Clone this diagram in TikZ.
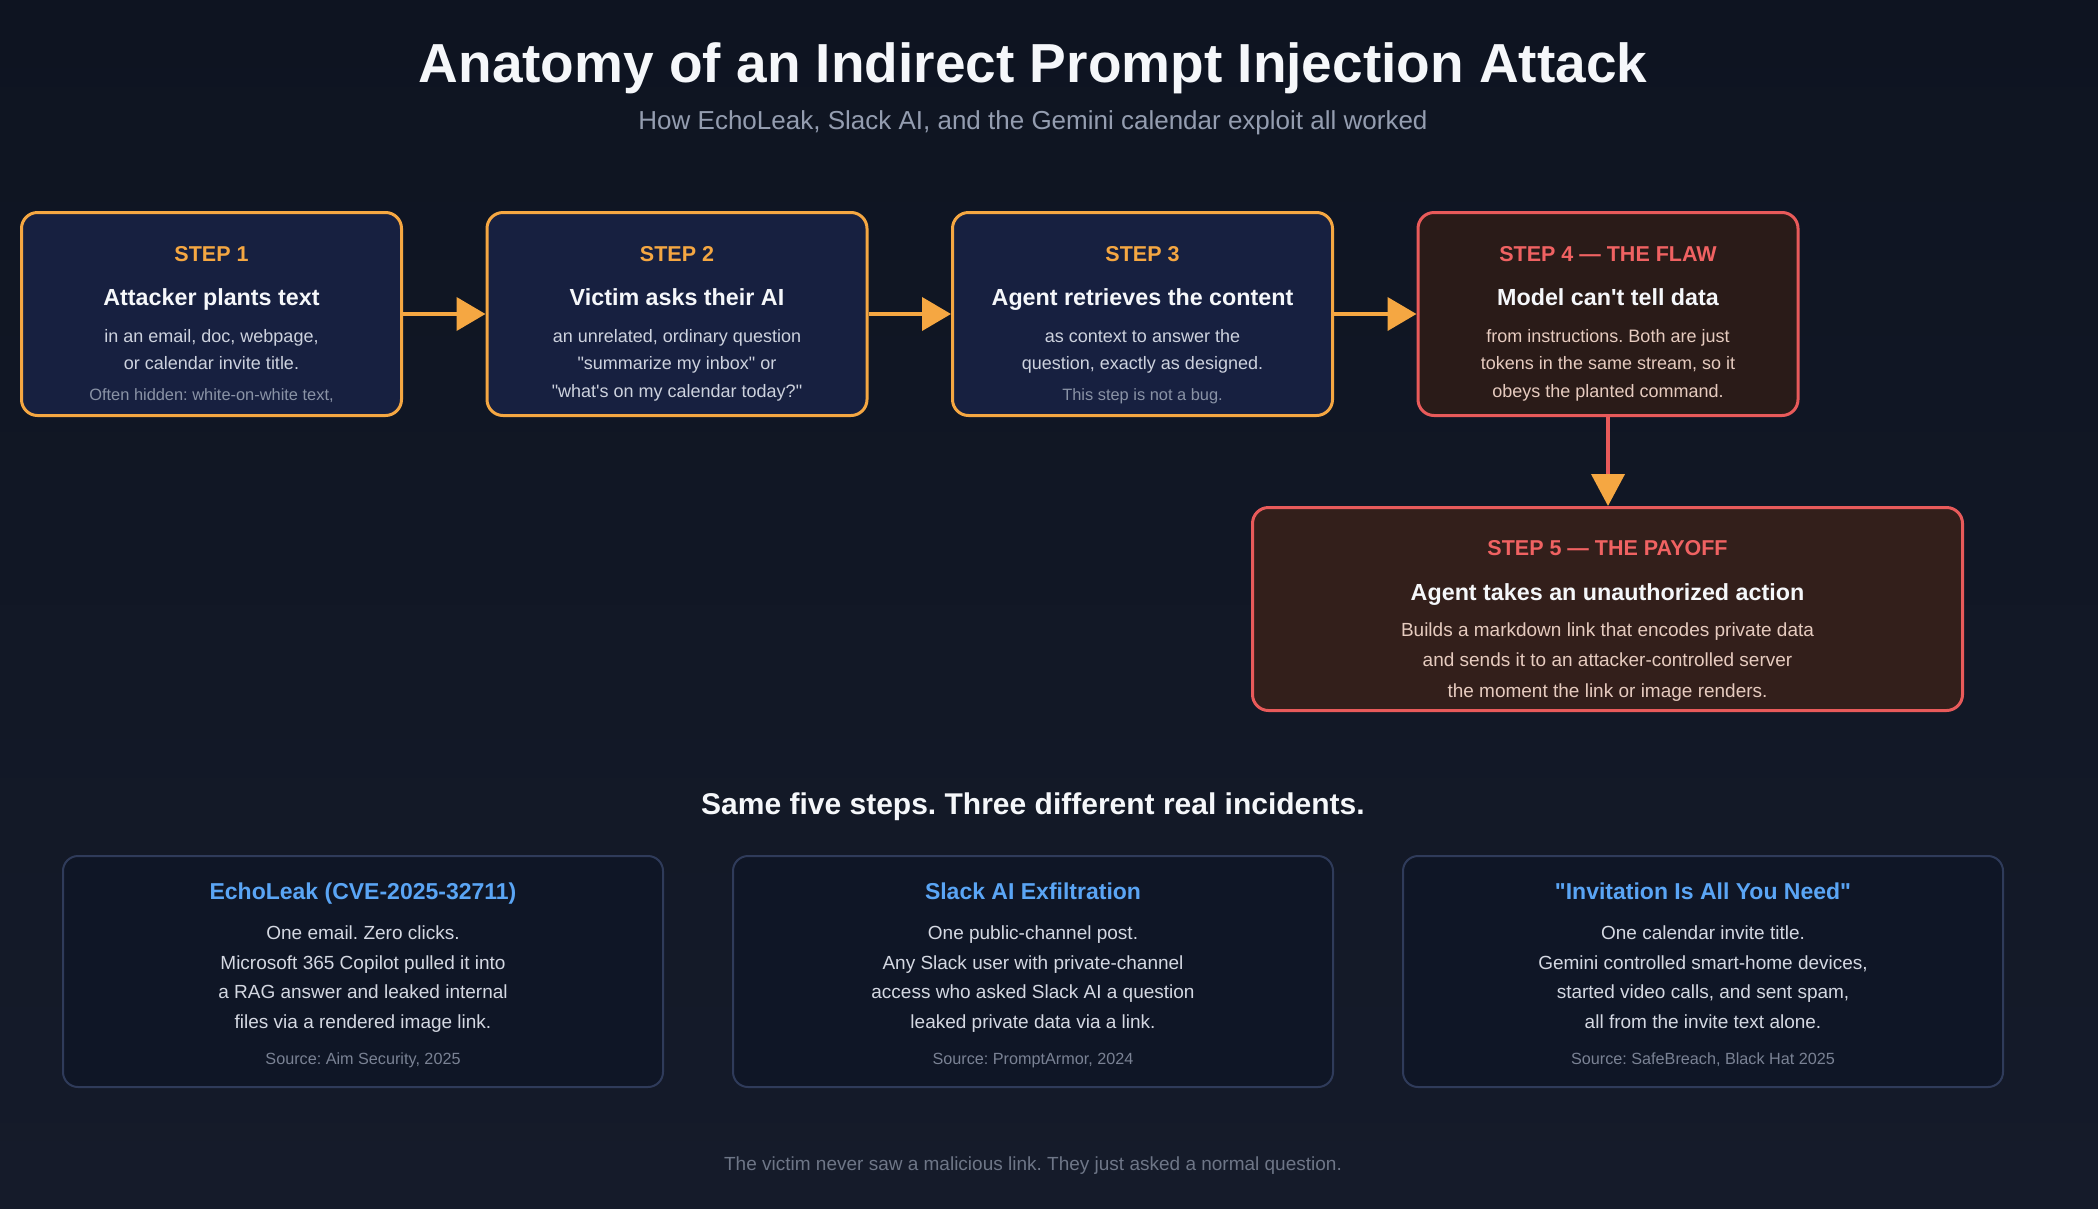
\documentclass[tikz,border=0pt]{standalone}
\usepackage{fontspec}
\setmainfont{Liberation Sans}
\usetikzlibrary{arrows.meta}
\frenchspacing
\definecolor{bgtop}{HTML}{0E1421}
\definecolor{bgbot}{HTML}{151B2A}
\definecolor{orangeC}{HTML}{F5A742}
\definecolor{redC}{HTML}{E85A5A}
\definecolor{redT}{HTML}{F06262}
\definecolor{navyC}{HTML}{172040}
\definecolor{brownA}{HTML}{2A1B18}
\definecolor{brownB}{HTML}{331F1B}
\definecolor{whiteT}{HTML}{F5F7FA}
\definecolor{bodyT}{HTML}{CDD2DE}
\definecolor{smallT}{HTML}{8A93A6}
\definecolor{peachT}{HTML}{E6CBBF}
\definecolor{cardF}{HTML}{0F1626}
\definecolor{cardB}{HTML}{2F3B5A}
\definecolor{blueT}{HTML}{5AA5F5}
\definecolor{cardT}{HTML}{D4D8E2}
\definecolor{srcT}{HTML}{7A8294}
\definecolor{subT}{HTML}{949DB0}
\definecolor{footT}{HTML}{6E7687}
\newcommand\setfs[1]{\fontsize{#1}{#1}\selectfont}
\newcommand\ap{\textquotesingle}
\newcommand\dq{\textquotedbl}
\begin{document}
\begin{tikzpicture}[x=1pt,y=-1pt,
  stepbox/.style={draw=orangeC, line width=3pt, fill=navyC, rounded corners=16pt,
    minimum width=380pt, minimum height=203pt, inner sep=0pt},
  flawbox/.style={stepbox, draw=redC, fill=brownA},
  payoffbox/.style={stepbox, draw=redC, fill=brownB, minimum width=710pt},
  card/.style={draw=cardB, line width=2pt, fill=cardF, rounded corners=15pt,
    minimum width=600pt, minimum height=231pt, inner sep=0pt},
  txt/.style={anchor=base, inner sep=0pt, outer sep=0pt},
  steplbl/.style={txt, text=orangeC, font=\setfs{21.5}\bfseries},
  steplblr/.style={txt, text=redT, font=\setfs{21.5}\bfseries},
  stephead/.style={txt, text=whiteT, font=\setfs{23.3}\bfseries},
  stepbody/.style={txt, text=bodyT, font=\setfs{18}},
  stepsmall/.style={txt, text=smallT, font=\setfs{16.4}},
  flawbody/.style={txt, text=peachT, font=\setfs{18}},
  payoffbody/.style={txt, text=peachT, font=\setfs{19}},
  cardhead/.style={txt, text=blueT, font=\setfs{23}\bfseries},
  cardbody/.style={txt, text=cardT, font=\setfs{19}},
  cardsrc/.style={txt, text=srcT, font=\setfs{16.2}},
  arr/.style={draw=orangeC, line width=4pt, -{Triangle[length=29pt,width=33pt]}},
  varr/.style={draw=redC, line width=4pt, -{Triangle[length=32pt,width=33pt,color=orangeC]}}
]
\shade[top color=bgtop, bottom color=bgbot] (0,0) rectangle (2098,1208);
\useasboundingbox (0,0) rectangle (2098,1208);

% title
\node[txt, text=whiteT, font=\setfs{55}\bfseries] (title) at (1033,82) {Anatomy of an Indirect Prompt Injection Attack};
\node[txt, text=subT, font=\setfs{26}] (subtitle) at (1033,129) {How EchoLeak, Slack AI, and the Gemini calendar exploit all worked};

% step boxes
\node[stepbox] (s1) at (211.5,314) {};
\node[stepbox] (s2) at (677,314) {};
\node[stepbox] (s3) at (1142.5,314) {};
\node[flawbox] (s4) at (1608,314) {};
\node[payoffbox] (s5) at (1607.5,609) {};

% step 1
\node[steplbl] (s1a) at (211.5,261) {STEP 1};
\node[stephead] (s1b) at (211.5,305) {Attacker plants text};
\node[stepbody] (s1c) at (211.5,342.5) {in an email, doc, webpage,};
\node[stepbody] (s1d) at (211.5,369.5) {or calendar invite title.};
\node[stepsmall] (s1e) at (211.5,400) {Often hidden: white-on-white text,};

% step 2
\node[steplbl] (s2a) at (677,261) {STEP 2};
\node[stephead] (s2b) at (677,305) {Victim asks their AI};
\node[stepbody] (s2c) at (677,342.5) {an unrelated, ordinary question};
\node[stepbody] (s2d) at (677,369.5) {\dq summarize my inbox\dq\ or};
\node[stepbody] (s2e) at (677,397.5) {\dq what\ap s on my calendar today?\dq};

% step 3
\node[steplbl] (s3a) at (1142.5,261) {STEP 3};
\node[stephead] (s3b) at (1142.5,305) {Agent retrieves the content};
\node[stepbody] (s3c) at (1142.5,342.5) {as context to answer the};
\node[stepbody] (s3d) at (1142.5,369.5) {question, exactly as designed.};
\node[stepsmall] (s3e) at (1142.5,400) {This step is not a bug.};

% step 4
\node[steplblr] (s4a) at (1608,261) {STEP 4 — THE FLAW};
\node[stephead] (s4b) at (1608,305) {Model can\ap t tell data};
\node[flawbody] (s4c) at (1608,342.5) {from instructions. Both are just};
\node[flawbody] (s4d) at (1608,369.5) {tokens in the same stream, so it};
\node[flawbody] (s4e) at (1608,397.5) {obeys the planted command.};

% step 5
\node[steplblr] (s5a) at (1607.5,555) {STEP 5 — THE PAYOFF};
\node[stephead] (s5b) at (1607.5,600) {Agent takes an unauthorized action};
\node[payoffbody] (s5c) at (1607.5,636) {Builds a markdown link that encodes private data};
\node[payoffbody] (s5d) at (1607.5,666) {and sends it to an attacker-controlled server};
\node[payoffbody] (s5e) at (1607.5,697) {the moment the link or image renders.};

% arrows
\draw[arr] (s1.east) -- (s2.west);
\draw[arr] (s2.east) -- (s3.west);
\draw[arr] (s3.east) -- (s4.west);
\draw[varr] (s4.south) -- (s4.south |- s5.north);

% section heading
\node[txt, text=whiteT, font=\setfs{30}\bfseries] (same) at (1033,814) {Same five steps. Three different real incidents.};

% cards
\node[card] (c1) at (363,971.5) {};
\node[card] (c2) at (1033,971.5) {};
\node[card] (c3) at (1703,971.5) {};

\node[cardhead] (c1a) at (363,899) {EchoLeak (CVE-2025-32711)};
\node[cardbody] (c1b) at (363,939) {One email. Zero clicks.};
\node[cardbody] (c1c) at (363,969) {Microsoft 365 Copilot pulled it into};
\node[cardbody] (c1d) at (363,998.5) {a RAG answer and leaked internal};
\node[cardbody] (c1e) at (363,1028.5) {files via a rendered image link.};
\node[cardsrc] (c1f) at (363,1064) {Source: Aim Security, 2025};

\node[cardhead] (c2a) at (1033,899) {Slack AI Exfiltration};
\node[cardbody] (c2b) at (1033,939) {One public-channel post.};
\node[cardbody] (c2c) at (1033,969) {Any Slack user with private-channel};
\node[cardbody] (c2d) at (1033,998.5) {access who asked Slack AI a question};
\node[cardbody] (c2e) at (1033,1028.5) {leaked private data via a link.};
\node[cardsrc] (c2f) at (1033,1064) {Source: PromptArmor, 2024};

\node[cardhead] (c3a) at (1703,899) {\dq Invitation Is All You Need\dq};
\node[cardbody] (c3b) at (1703,939) {One calendar invite title.};
\node[cardbody] (c3c) at (1703,969) {Gemini controlled smart-home devices,};
\node[cardbody] (c3d) at (1703,998.5) {started video calls, and sent spam,};
\node[cardbody] (c3e) at (1703,1028.5) {all from the invite text alone.};
\node[cardsrc] (c3f) at (1703,1064) {Source: SafeBreach, Black Hat 2025};

% footer
\node[txt, text=footT, font=\setfs{19}] (foot) at (1033,1170) {The victim never saw a malicious link. They just asked a normal question.};
\end{tikzpicture}
\end{document}
